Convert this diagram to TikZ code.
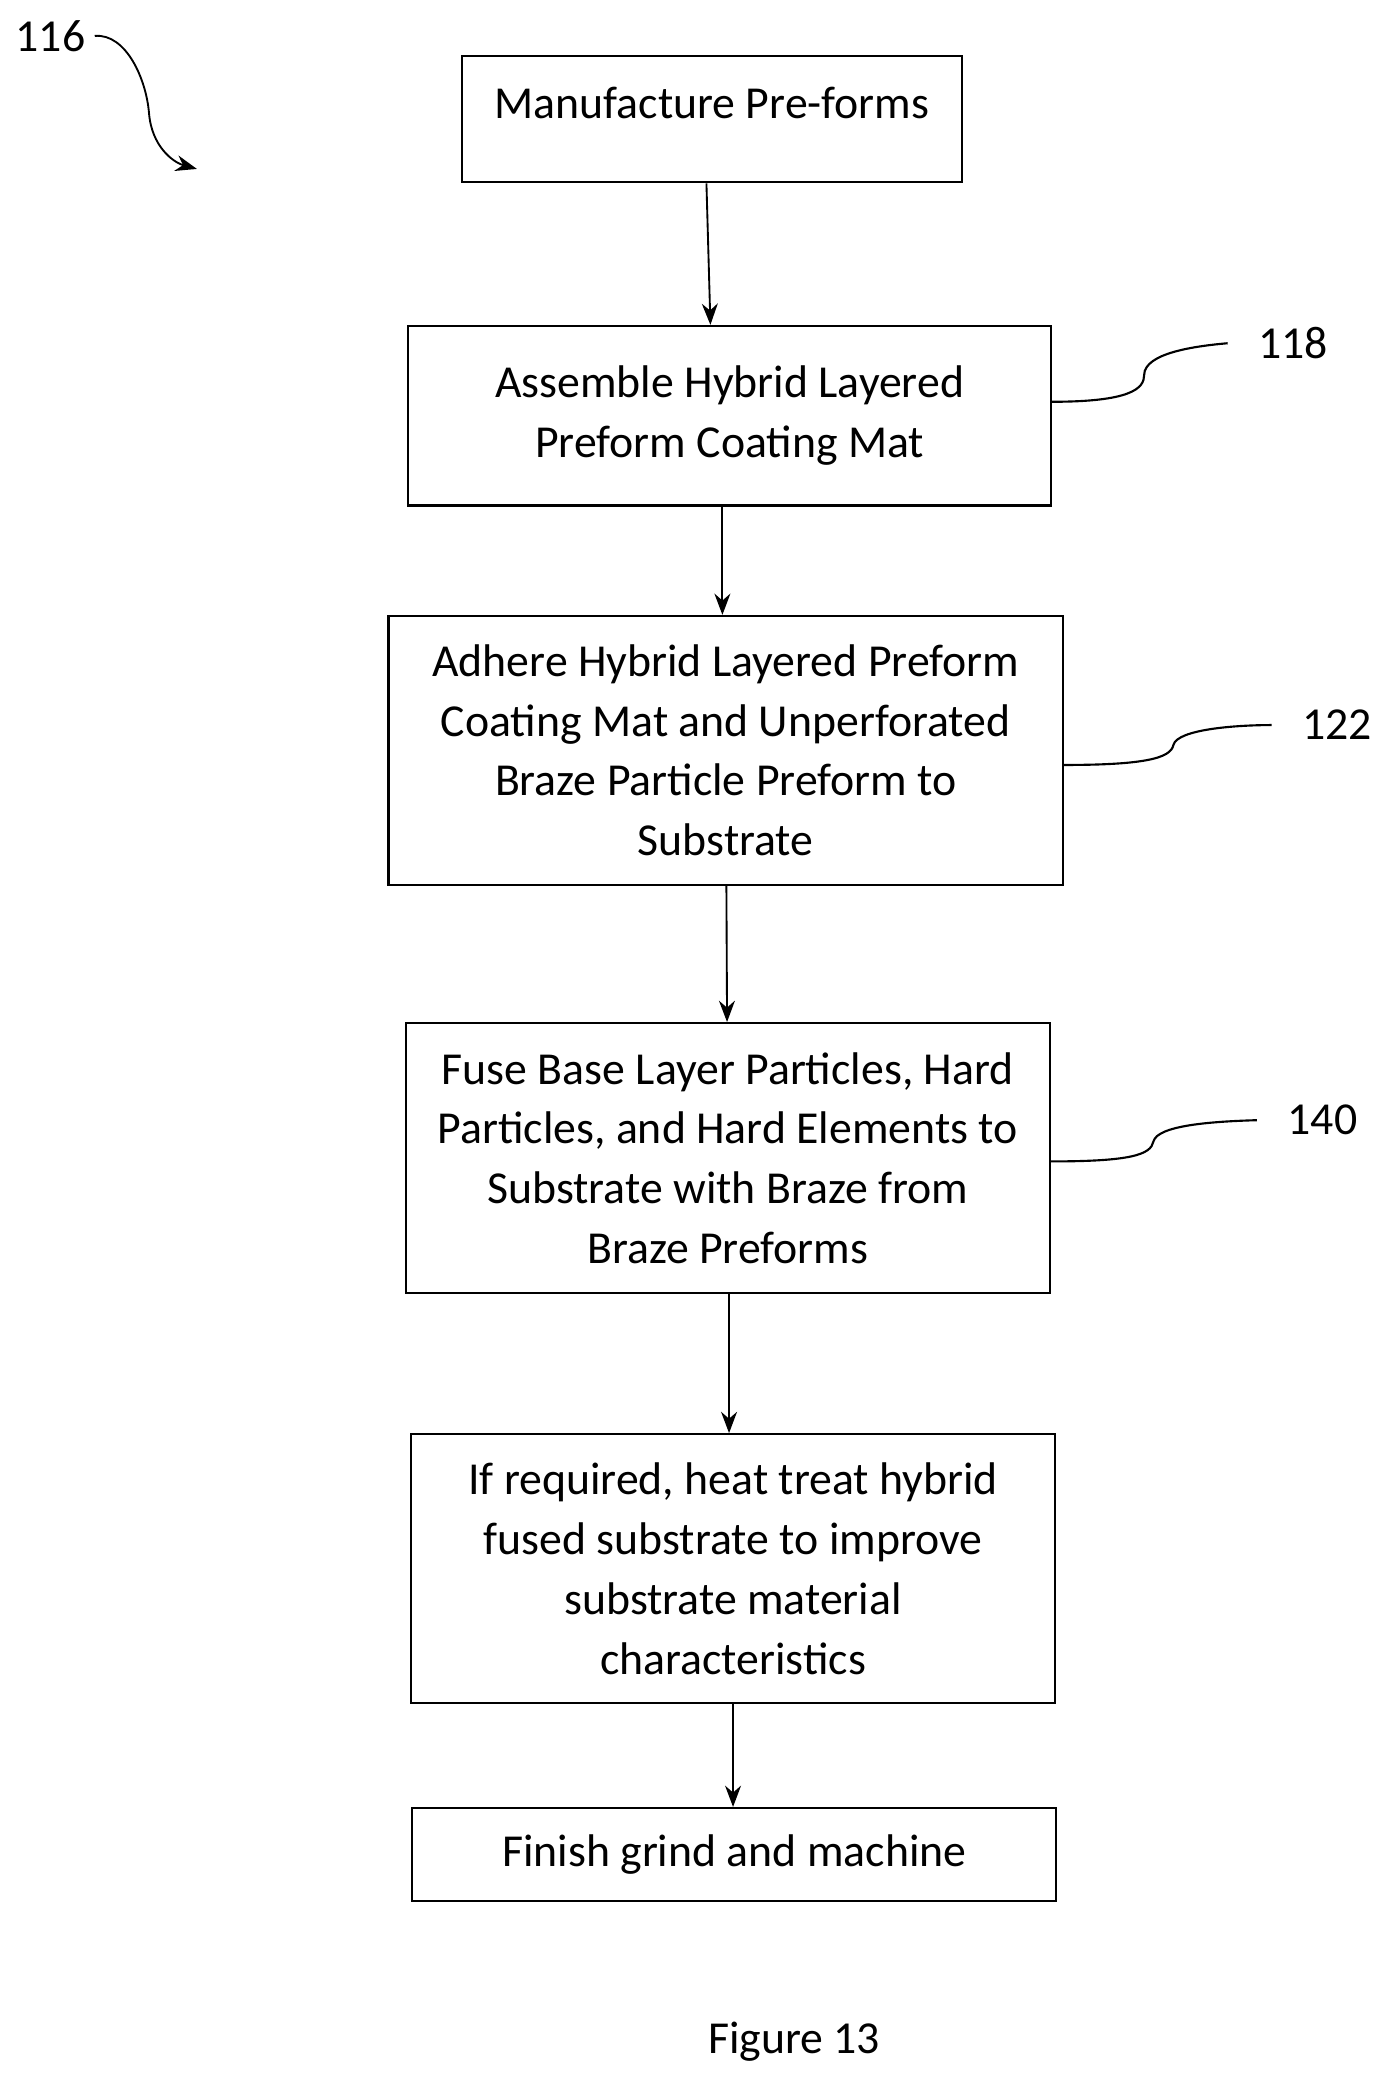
\documentclass[tikz,border=0pt]{standalone}
\usepackage{fontspec}
\setmainfont{Carlito}
\usetikzlibrary{arrows.meta}
\begin{document}
\begin{tikzpicture}[x=0.5pt,y=-0.5pt,
  box/.style={draw,line width=0.8pt,rectangle,align=center,inner sep=0pt,font=\fontsize{17.2}{22.5}\selectfont},
  lab/.style={font=\fontsize{17.2}{18}\selectfont},
  arr/.style={-{Stealth[length=8pt,width=6pt]},line width=0.7pt},
  sq/.style={line width=0.8pt}]
\useasboundingbox (0,0) rectangle (1050,1577);
\node[box,minimum width=188pt,minimum height=47.5pt] (b1) at (535,89.5) {\raisebox{12pt}{Manufacture Pre-forms}};
\node[box,minimum width=241.5pt,minimum height=67.5pt] (b2) at (548.5,312.5) {Assemble Hybrid Layered\\Preform Coating Mat};
\node[box,minimum width=253.5pt,minimum height=101pt] (b3) at (545.5,564) {Adhere Hybrid Layered Preform\\Coating Mat and Unperforated\\Braze Particle Preform to\\Substrate};
\node[box,minimum width=242pt,minimum height=101.5pt] (b4) at (547,870.5) {Fuse Base Layer Particles, Hard\\Particles, and Hard Elements to\\Substrate with Braze from\\Braze Preforms};
\node[box,minimum width=242pt,minimum height=101pt] (b5) at (551,1179) {If required, heat treat hybrid\\fused substrate to improve\\substrate material\\characteristics};
\node[box,minimum width=242pt,minimum height=35pt] (b6) at (552,1394) {Finish grind and machine};
\node[lab] (f) at (597,1535) {Figure 13};
\draw[arr] ([xshift=-2pt]b1.south) -- ([xshift=-7.25pt]b2.north);
\draw[arr] ([xshift=-2.75pt]b2.south) -- ([xshift=-1.25pt]b3.north);
\draw[arr] ([xshift=0.25pt]b3.south) -- ([xshift=-0.25pt]b4.north);
\draw[arr] ([xshift=0.5pt]b4.south) -- ([xshift=-1.5pt]b5.north);
\draw[arr] (b5.south) -- ([xshift=-0.5pt]b6.north);
\node[lab] (l116) at (38,27) {116};
\coordinate (e116) at (148,127);
\draw[arr] (l116.east) .. controls (95,25) and (110,60) .. (112,85) .. controls (114,110) and (130,122) .. (e116);
\node[lab] (l118) at (972,258) {118};
\draw[sq] (b2.east |- 0,302) .. controls (850,302) and (860,292) .. (860,282) .. controls (860,265) and (900,260) .. ([xshift=-8pt]l118.west);
\node[lab] (l122) at (1005,545) {122};
\draw[sq] (b3.east |- 0,575) .. controls (860,575) and (880,570) .. (882,560) .. controls (885,548) and (930,545) .. ([xshift=-8pt]l122.west);
\node[lab] (l140) at (994,842) {140};
\draw[sq] (b4.east |- 0,873) .. controls (850,873) and (865,868) .. (867,858) .. controls (870,846) and (910,843) .. ([xshift=-8pt]l140.west);
\end{tikzpicture}
\end{document}
